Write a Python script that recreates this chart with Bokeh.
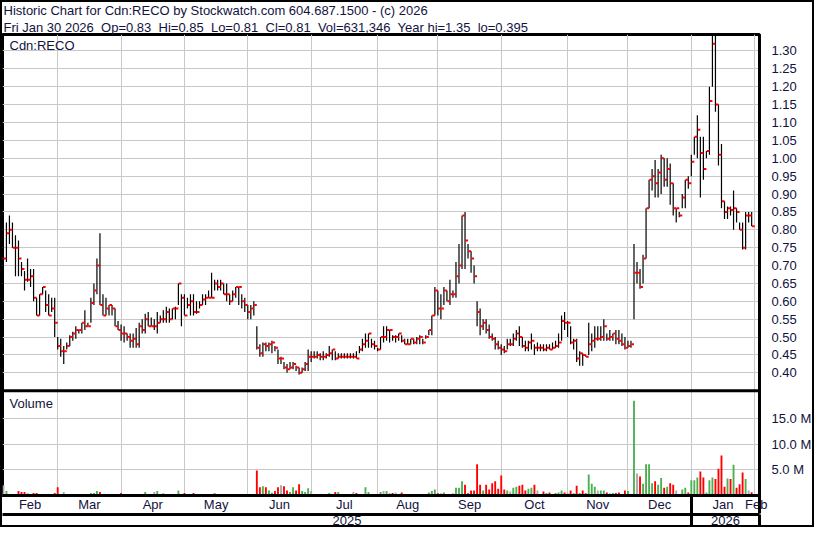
import pandas as pd
from bokeh.plotting import figure
from bokeh.models import (Range1d, FixedTicker, LinearAxis, Span, Label, Title,
                          CustomJSTickFormatter, ColumnDataSource)
from bokeh.embed import file_html
from bokeh.resources import INLINE

# ---------------- data ----------------
FIRST_DAY, LAST_DAY = "2025-01-31", "2026-01-30"
HOLIDAYS = ["2025-02-17", "2025-04-18", "2025-05-19", "2025-07-01", "2025-08-04",
            "2025-09-01", "2025-10-13", "2025-12-25", "2025-12-26", "2026-01-01"]

SP = "\u00a0 "
HEADER_1 = "Historic Chart for Cdn:RECO by Stockwatch.com 604.687.1500 - (c) 2026"
HEADER_2 = SP.join(["Fri Jan 30 2026", "Op=0.83", "Hi=0.85", "Lo=0.81", "Cl=0.81",
                    "Vol=631,346", "Year hi=1.35", "lo=0.395"])
SYMBOL = "Cdn:RECO"

HIGH = [
    # Feb
    0.80, 0.78, 0.83, 0.82, 0.84, 0.82, 0.785, 0.77, 0.71, 0.685, 0.72, 0.69, 0.69, 0.61, 0.62, 0.64, 0.63, 0.62, 0.61, 0.61,
    # Mar
    0.50, 0.495, 0.475, 0.485, 0.505, 0.515, 0.53, 0.52, 0.54, 0.575, 0.54, 0.61, 0.65, 0.72, 0.79, 0.62, 0.61, 0.59, 0.59, 0.58, 0.545,
    # Apr
    0.535, 0.53, 0.51, 0.51, 0.51, 0.525, 0.54, 0.55, 0.565, 0.57, 0.555, 0.55, 0.57, 0.56, 0.575, 0.585, 0.58, 0.58, 0.585, 0.65, 0.62,
    # May
    0.62, 0.61, 0.62, 0.62, 0.60, 0.60, 0.62, 0.62, 0.63, 0.68, 0.66, 0.66, 0.66, 0.65, 0.65, 0.62, 0.63, 0.64, 0.64, 0.62, 0.61,
    # Jun
    0.59, 0.59, 0.60, 0.53, 0.48, 0.485, 0.485, 0.485, 0.49, 0.475, 0.465, 0.445, 0.43, 0.425, 0.43, 0.43, 0.42, 0.415, 0.415, 0.43, 0.465,
    # Jul
    0.46, 0.46, 0.46, 0.455, 0.46, 0.455, 0.475, 0.465, 0.46, 0.455, 0.455, 0.455, 0.455, 0.455, 0.455, 0.46, 0.475, 0.495, 0.51, 0.51, 0.495, 0.49,
    # Aug
    0.47, 0.50, 0.53, 0.53, 0.52, 0.505, 0.505, 0.51, 0.505, 0.495, 0.495, 0.495, 0.495, 0.50, 0.505, 0.495, 0.505, 0.52, 0.56, 0.64,
    # Sep
    0.63, 0.62, 0.64, 0.63, 0.66, 0.63, 0.71, 0.76, 0.84, 0.85, 0.76, 0.74, 0.70, 0.60, 0.58, 0.55, 0.55, 0.535, 0.51, 0.50, 0.49,
    # Oct
    0.48, 0.475, 0.495, 0.495, 0.51, 0.52, 0.53, 0.50, 0.49, 0.49, 0.51, 0.48, 0.485, 0.48, 0.48, 0.48, 0.48, 0.485, 0.49, 0.51, 0.56, 0.57,
    # Nov
    0.545, 0.53, 0.495, 0.495, 0.46, 0.455, 0.45, 0.54, 0.51, 0.53, 0.53, 0.53, 0.55, 0.51, 0.52, 0.51, 0.52, 0.52, 0.51, 0.50,
    # Dec
    0.49, 0.49, 0.76, 0.71, 0.69, 0.73, 0.86, 0.94, 0.97, 0.995, 0.97, 1.01, 1.00, 1.00, 0.985, 0.93, 0.86, 0.85, 0.90, 0.94, 0.95,
    # Jan
    1.01, 1.06, 1.12, 1.06, 1.06, 1.02, 1.20, 1.35, 1.35, 1.15, 1.04, 0.88, 0.865, 0.865, 0.91, 0.86, 0.82, 0.82, 0.85, 0.85, 0.85,
]
LOW = [
    # Feb
    0.73, 0.70, 0.64, 0.71, 0.76, 0.75, 0.67, 0.67, 0.67, 0.63, 0.655, 0.64, 0.60, 0.56, 0.56, 0.62, 0.57, 0.56, 0.57, 0.50,
    # Mar
    0.465, 0.445, 0.425, 0.465, 0.475, 0.49, 0.495, 0.51, 0.51, 0.52, 0.53, 0.54, 0.59, 0.62, 0.59, 0.56, 0.56, 0.56, 0.56, 0.53, 0.52,
    # Apr
    0.49, 0.485, 0.49, 0.47, 0.47, 0.47, 0.47, 0.51, 0.51, 0.53, 0.53, 0.52, 0.51, 0.54, 0.54, 0.54, 0.54, 0.55, 0.55, 0.59, 0.53,
    # May
    0.56, 0.58, 0.56, 0.56, 0.565, 0.58, 0.59, 0.59, 0.61, 0.61, 0.63, 0.63, 0.63, 0.62, 0.60, 0.59, 0.60, 0.61, 0.59, 0.58, 0.57,
    # Jun
    0.55, 0.55, 0.56, 0.465, 0.445, 0.445, 0.46, 0.46, 0.455, 0.46, 0.425, 0.425, 0.41, 0.40, 0.41, 0.41, 0.405, 0.395, 0.40, 0.405, 0.405,
    # Jul
    0.43, 0.44, 0.44, 0.435, 0.435, 0.44, 0.445, 0.435, 0.435, 0.44, 0.44, 0.44, 0.44, 0.44, 0.44, 0.44, 0.455, 0.46, 0.47, 0.47, 0.47, 0.465,
    # Aug
    0.46, 0.465, 0.485, 0.49, 0.485, 0.49, 0.485, 0.49, 0.485, 0.48, 0.48, 0.48, 0.48, 0.48, 0.48, 0.48, 0.495, 0.505, 0.505, 0.56,
    # Sep
    0.56, 0.55, 0.59, 0.60, 0.59, 0.61, 0.61, 0.65, 0.69, 0.69, 0.72, 0.68, 0.65, 0.53, 0.505, 0.52, 0.51, 0.495, 0.49, 0.465, 0.465,
    # Oct
    0.45, 0.455, 0.465, 0.475, 0.475, 0.49, 0.475, 0.47, 0.46, 0.46, 0.465, 0.45, 0.46, 0.46, 0.46, 0.46, 0.465, 0.465, 0.47, 0.47, 0.49, 0.52,
    # Nov
    0.50, 0.48, 0.465, 0.43, 0.42, 0.42, 0.445, 0.45, 0.46, 0.47, 0.49, 0.49, 0.49, 0.49, 0.49, 0.49, 0.48, 0.48, 0.475, 0.465,
    # Dec
    0.47, 0.47, 0.55, 0.65, 0.635, 0.65, 0.72, 0.86, 0.91, 0.89, 0.89, 0.90, 0.92, 0.92, 0.87, 0.84, 0.82, 0.835, 0.86, 0.86, 0.915,
    # Jan
    0.95, 1.01, 1.00, 0.89, 0.94, 1.00, 1.01, 1.20, 1.13, 0.98, 0.86, 0.83, 0.83, 0.84, 0.80, 0.82, 0.80, 0.745, 0.745, 0.82, 0.81,
]
CLOSE = [
    # Feb
    0.76, 0.72, 0.72, 0.79, 0.80, 0.75, 0.75, 0.72, 0.69, 0.66, 0.66, 0.67, 0.61, 0.56, 0.62, 0.64, 0.59, 0.56, 0.58, 0.54,
    # Mar
    0.475, 0.46, 0.46, 0.475, 0.50, 0.51, 0.52, 0.52, 0.54, 0.53, 0.53, 0.595, 0.63, 0.70, 0.59, 0.56, 0.58, 0.59, 0.58, 0.53, 0.52,
    # Apr
    0.51, 0.51, 0.50, 0.49, 0.495, 0.48, 0.53, 0.52, 0.55, 0.53, 0.53, 0.53, 0.54, 0.55, 0.55, 0.57, 0.55, 0.58, 0.58, 0.65, 0.61,
    # May
    0.56, 0.59, 0.60, 0.57, 0.57, 0.59, 0.605, 0.61, 0.61, 0.61, 0.65, 0.64, 0.65, 0.62, 0.62, 0.60, 0.62, 0.64, 0.64, 0.60, 0.59,
    # Jun
    0.57, 0.58, 0.59, 0.47, 0.455, 0.48, 0.475, 0.48, 0.485, 0.47, 0.44, 0.44, 0.415, 0.41, 0.415, 0.425, 0.415, 0.40, 0.41, 0.425, 0.445,
    # Jul
    0.445, 0.445, 0.45, 0.445, 0.445, 0.45, 0.455, 0.465, 0.44, 0.445, 0.445, 0.445, 0.445, 0.445, 0.445, 0.44, 0.465, 0.48, 0.49, 0.51, 0.48, 0.475,
    # Aug
    0.465, 0.50, 0.50, 0.52, 0.52, 0.50, 0.50, 0.51, 0.49, 0.48, 0.48, 0.495, 0.485, 0.495, 0.50, 0.485, 0.50, 0.52, 0.56, 0.63,
    # Sep
    0.58, 0.58, 0.63, 0.60, 0.62, 0.62, 0.67, 0.70, 0.84, 0.77, 0.74, 0.72, 0.67, 0.57, 0.53, 0.54, 0.52, 0.50, 0.495, 0.48, 0.47,
    # Oct
    0.465, 0.46, 0.48, 0.48, 0.495, 0.51, 0.50, 0.475, 0.47, 0.485, 0.49, 0.47, 0.47, 0.47, 0.465, 0.47, 0.465, 0.47, 0.475, 0.485, 0.545, 0.54,
    # Nov
    0.54, 0.485, 0.49, 0.44, 0.455, 0.45, 0.445, 0.48, 0.49, 0.495, 0.495, 0.50, 0.53, 0.495, 0.50, 0.51, 0.495, 0.49, 0.48, 0.47,
    # Dec
    0.475, 0.48, 0.68, 0.68, 0.64, 0.72, 0.86, 0.94, 0.95, 0.93, 0.96, 1.00, 0.94, 0.97, 0.93, 0.86, 0.86, 0.84, 0.89, 0.94, 0.93,
    # Jan
    0.99, 1.06, 1.08, 1.015, 0.97, 1.02, 1.16, 1.32, 1.15, 1.01, 0.88, 0.85, 0.86, 0.855, 0.86, 0.85, 0.80, 0.75, 0.84, 0.84, 0.81,
]
VOLUME_K = [  # thousands of shares
    # Feb
    400, 600, 2000, 860, 250, 120, 300, 860, 680, 680, 500, 300, 500, 500, 300, 120, 300, 120, 300, 500,
    # Mar
    1600, 300, 680, 120, 300, 120, 300, 40, 120, 120, 300, 500, 500, 860, 680, 120, 120, 40, 40, 300, 300,
    # Apr
    500, 300, 120, 300, 300, 300, 120, 120, 680, 120, 120, 680, 860, 40, 500, 120, 300, 120, 300, 1000, 300,
    # May
    500, 120, 120, 500, 40, 120, 40, 40, 300, 120, 500, 120, 120, 40, 120, 40, 40, 40, 120, 120, 120,
    # Jun
    120, 120, 40, 4900, 1600, 1800, 1600, 1000, 560, 860, 1600, 2000, 1800, 1000, 680, 1600, 1000, 2200, 860, 680, 1400,
    # Jul
    860, 300, 300, 300, 300, 120, 500, 300, 680, 680, 120, 300, 300, 120, 680, 500, 300, 300, 1600, 680, 300, 300,
    # Aug
    120, 680, 860, 900, 500, 500, 600, 60, 600, 60, 240, 60, 60, 60, 60, 60, 40, 600, 900, 1160,
    # Sep
    430, 430, 600, 240, 240, 430, 1500, 1500, 2800, 2100, 430, 1000, 1000, 6100, 2100, 1000, 2100, 1160, 2400, 2800, 1340,
    # Oct
    3900, 1160, 1000, 800, 1500, 1700, 1900, 2100, 1000, 1340, 1500, 2100, 1000, 240, 800, 500, 600, 240, 500, 600, 1000, 600,
    # Nov
    600, 1000, 430, 1900, 500, 1000, 430, 4100, 2300, 1700, 1000, 1000, 1000, 600, 400, 500, 500, 600, 40, 1000,
    # Dec
    900, 40, 18500, 4300, 3700, 2300, 6100, 6100, 2400, 2800, 2100, 3400, 1500, 1700, 2400, 2100, 1000, 120, 1160, 1500, 600,
    # Jan
    3000, 3000, 3500, 4700, 3500, 600, 3000, 3500, 3200, 5200, 7800, 1700, 3300, 3200, 6000, 1500, 2200, 4500, 3200, 1000, 631.346,
]
PRICE_TICKS = [0.40, 0.45, 0.50, 0.55, 0.60, 0.65, 0.70, 0.75, 0.80, 0.85, 0.90, 0.95,
               1.00, 1.05, 1.10, 1.15, 1.20, 1.25, 1.30]
VOLUME_TICKS = [5e6, 10e6, 15e6]

# ---------------- calendar ----------------
days = pd.bdate_range(FIRST_DAY, LAST_DAY)
days = days[~days.isin(pd.to_datetime(HOLIDAYS))]
n = len(days)
assert n == len(HIGH) == len(LOW) == len(CLOSE) == len(VOLUME_K)
idx = list(range(n))

# ---------------- view settings ----------------
W, H = 814, 527
X_START, X_END = 1.7, 252.6
P_LO, P_HI = 0.057, 1.346
V_TOP = 90e6
DIVIDER = 0.35
TXT = "#12123e"
FONT = "Liberation Sans"
GRID = "#c8c8c8"
UP, DOWN, FLAT = "#4caf50", "#ff0000", "#a8a8a8"

vol = [v * 1000 for v in VOLUME_K]
colors = [FLAT]
for a, b in zip(CLOSE[:-1], CLOSE[1:]):
    colors.append(UP if b > a + 1e-9 else (DOWN if b < a - 1e-9 else FLAT))

src = ColumnDataSource(dict(x=idx, hi=HIGH, lo=LOW, cl=CLOSE, vol=vol, col=colors,
                            tx0=[i + 0.12 for i in idx], tx1=[i + 1.0 for i in idx]))

# month boundaries (index of first trading day of each month)
mkeys = [(d.year, d.month) for d in days]
starts = [i for i in range(n) if i == 0 or mkeys[i] != mkeys[i - 1]]
names = [days[i].strftime("%b") for i in starts]
bounds = starts + [n]
centers, labels = [], {}
for k in range(len(starts)):
    a = max(bounds[k], X_START)
    c = (a + bounds[k + 1]) / 2
    centers.append(c)
    labels[c] = names[k]
feb_next = float(n) + 0.5
centers.append(feb_next)
labels[feb_next] = (days[-1] + pd.offsets.MonthBegin(1)).strftime("%b")
jan_b = [s for s in starts if days[s].year == 2026][0]
year_c = [(X_START + jan_b) / 2, (jan_b + X_END) / 2]
year_labels = {year_c[0]: "2025", year_c[1]: "2026"}
edge = X_END - 0.1

p = figure(width=W, height=H, x_range=Range1d(X_START, X_END), y_range=Range1d(P_LO, P_HI),
           y_axis_location="right", output_backend="svg", toolbar_location=None, title=None,
           min_border_left=2, min_border_right=0, min_border_top=0, min_border_bottom=2)
p.extra_y_ranges = {"vol": Range1d(0, V_TOP)}
p.border_fill_color = None
p.background_fill_color = "white"
p.outline_line_color = "black"
p.outline_line_width = 3
p.styles = {"box-shadow": "inset 0 0 0 2px #000", "background": "white"}

for t in (HEADER_2, HEADER_1):
    p.add_layout(Title(text=t, text_font=FONT, text_font_size="13px", text_font_style="normal",
                       text_color=TXT, align="left", offset=1, standoff=0), "above")

# y ticks (price on top, volume below divider)
vt = [P_LO + v / V_TOP * (P_HI - P_LO) for v in VOLUME_TICKS]
yticker = FixedTicker(ticks=vt + PRICE_TICKS, minor_ticks=[])
ya = p.yaxis[0]
ya.ticker = yticker
ya.formatter = CustomJSTickFormatter(args=dict(lo=P_LO, hi=P_HI, vtop=V_TOP, split=DIVIDER), code="""
if (tick > split) { return tick.toFixed(2); }
const v = (tick - lo) / (hi - lo) * vtop;
return (v / 1e6).toFixed(1) + " M";
""")
ya.major_tick_line_color = None
ya.minor_tick_line_color = None
ya.axis_line_color = "black"
ya.axis_line_width = 3
ya.major_label_standoff = 6
ya.major_label_text_font = FONT
ya.major_label_text_font_size = "13px"
ya.major_label_text_color = TXT
p.ygrid.ticker = yticker
p.ygrid.grid_line_color = GRID

xa = p.xaxis[0]
xa.ticker = FixedTicker(ticks=centers, minor_ticks=[jan_b, edge])
xa.major_label_overrides = labels
xa.major_tick_line_color = None
xa.minor_tick_line_color = "black"
xa.minor_tick_line_width = 3
xa.minor_tick_in = 0
xa.minor_tick_out = 18
xa.axis_line_width = 3
xa.major_label_standoff = -17
xa.major_label_text_font = FONT
xa.major_label_text_font_size = "13px"
xa.major_label_text_color = TXT
p.xgrid.ticker = FixedTicker(ticks=starts[1:] + [n])
p.xgrid.grid_line_color = GRID

yr = LinearAxis(ticker=FixedTicker(ticks=year_c, minor_ticks=[jan_b, edge]),
                major_label_overrides=year_labels)
yr.major_tick_line_color = None
yr.minor_tick_line_color = "black"
yr.minor_tick_line_width = 3
yr.minor_tick_in = 0
yr.minor_tick_out = 16
yr.axis_line_width = 3
yr.major_label_standoff = -15
yr.major_label_text_font = FONT
yr.major_label_text_font_size = "13px"
yr.major_label_text_color = TXT
p.add_layout(yr, "below")

# volume bars
p.vbar(x="x", top="vol", bottom=0, width=0.62, fill_color="col", line_color=None,
       y_range_name="vol", source=src)
# high-low bars and close ticks
p.segment(x0="x", y0="lo", x1="x", y1="hi", line_color="black", line_width=1.2, source=src)
p.segment(x0="tx0", y0="cl", x1="tx1", y1="cl", line_color="#ff0000", line_width=2, source=src)

p.add_layout(Span(location=DIVIDER, dimension="width", line_color="black", line_width=3))
p.add_layout(Label(x=X_START, y=P_HI, x_offset=7, y_offset=-3, text=SYMBOL, text_baseline="top",
                   text_font=FONT, text_font_size="13px", text_color=TXT))
p.add_layout(Label(x=X_START, y=DIVIDER, x_offset=7, y_offset=-5, text="Volume", text_baseline="top",
                   text_font=FONT, text_font_size="13px", text_color=TXT))

open("out.html", "w").write(file_html(p, INLINE))
